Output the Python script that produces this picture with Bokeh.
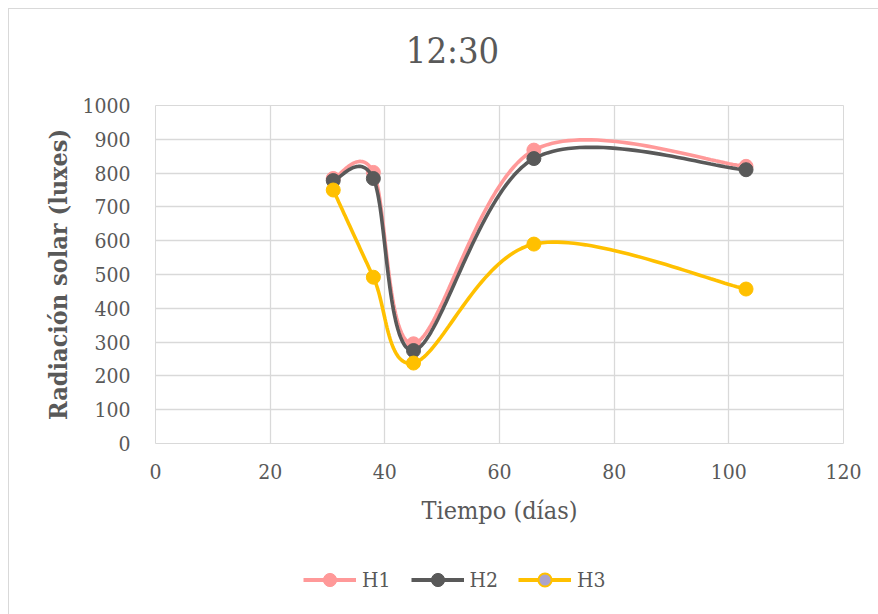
import numpy as np
from bokeh.plotting import figure
from bokeh.layouts import column
from bokeh.models import Legend, LegendItem, FixedTicker, Label
from bokeh.embed import file_html
from bokeh.resources import INLINE

# Solar radiation at 12:30 for three greenhouses
dias = [31, 38, 45, 66, 103]
h1 = [784, 802, 295, 868, 820]
h2 = [778, 784, 275, 843, 810]
h3 = [750, 492, 238, 590, 457]

series = [
    ("H1", h1, "#FF9999"),
    ("H2", h2, "#595959"),
    ("H3", h3, "#FFC000"),
]

x_ticks = [0, 20, 40, 60, 80, 100, 120]
y_ticks = list(range(0, 1001, 100))

FONT = "DejaVu Serif Condensed"
TEXT = "#595959"
GRID = "#D9D9D9"
WIDTH = 869


def suavizar(xs, ys, pasos=40):
    """Cubic Bezier smoothing through every point (Catmull-Rom style)."""
    pts = np.column_stack([xs, ys]).astype(float)
    ext = np.vstack([pts[0], pts, pts[-1]])
    t = np.linspace(0, 1, pasos + 1)[1:, None]
    out = [pts[:1]]
    for i in range(len(pts) - 1):
        p0 = ext[i + 1]
        p3 = ext[i + 2]
        c1 = p0 + (ext[i + 2] - ext[i]) / 6.0
        c2 = p3 - (ext[i + 3] - ext[i + 1]) / 6.0
        seg = ((1 - t) ** 3) * p0 + 3 * ((1 - t) ** 2) * t * c1 \
            + 3 * (1 - t) * t ** 2 * c2 + t ** 3 * p3
        out.append(seg)
    curve = np.vstack(out)
    return curve[:, 0], curve[:, 1]


def franja(height):
    """Blank strip (no axes, no grid) used for the heading and the legend."""
    f = figure(
        width=WIDTH, height=height, x_range=(0, 1), y_range=(0, 1),
        output_backend="svg", toolbar_location=None,
        x_axis_type=None, y_axis_type=None,
        min_border=0, outline_line_color=None,
        background_fill_color="white", border_fill_color="white",
    )
    f.xgrid.visible = False
    f.ygrid.visible = False
    return f


# ---- heading ----------------------------------------------------------
head = franja(81)
head.add_layout(Label(
    x=297, y=40, x_units="screen", y_units="screen", text="12:30",
    text_align="center", text_baseline="middle",
    text_font=FONT, text_font_size="36px", text_color=TEXT,
))

# ---- main chart -------------------------------------------------------
p = figure(
    width=WIDTH, height=453,
    x_range=(0, 120), y_range=(0, 1000),
    output_backend="svg", toolbar_location=None,
    min_border_left=146, min_border_right=35,
    min_border_top=15, min_border_bottom=100,
    background_fill_color="white", border_fill_color="white",
    outline_line_color=GRID,
)

p.xaxis.ticker = FixedTicker(ticks=x_ticks)
p.yaxis.ticker = FixedTicker(ticks=y_ticks)
p.xgrid.grid_line_color = GRID
p.ygrid.grid_line_color = GRID
p.xgrid.grid_line_width = 1.3
p.ygrid.grid_line_width = 1.3

for ax in (p.xaxis, p.yaxis):
    ax.axis_line_color = None
    ax.major_tick_line_color = None
    ax.minor_tick_line_color = None
    ax.major_label_text_font = FONT
    ax.major_label_text_font_size = "21px"
    ax.major_label_text_color = TEXT
    ax.axis_label_text_font = FONT
    ax.axis_label_text_color = TEXT

p.xaxis.axis_label = "Tiempo (días)"
p.xaxis.axis_label_text_font_size = "25px"
p.xaxis.axis_label_text_font_style = "normal"
p.xaxis.major_label_standoff = 14
p.xaxis.axis_label_standoff = 14

p.yaxis.axis_label = "Radiación solar (luxes)"
p.yaxis.axis_label_text_font_size = "25px"
p.yaxis.axis_label_text_font_style = "bold"
p.yaxis.major_label_standoff = 19
p.yaxis.axis_label_standoff = 6

for nombre, valores, color in series:
    sx, sy = suavizar(dias, valores)
    p.line(sx, sy, line_color=color, line_width=3.6)
    p.scatter(dias, valores, size=14, fill_color=color, line_color=color)

# ---- legend strip under the chart --------------------------------------
q = franja(71)

items = []
for nombre, valores, color in series:
    # key renderers hold a single empty (NaN) point: only their swatch shows
    key_line = q.line([np.nan], [np.nan], line_color=color, line_width=4)
    if nombre == "H3":
        key_dot = q.scatter([np.nan], [np.nan], size=13, fill_color="#ABA3CC",
                            line_color=color, line_width=2)
    else:
        key_dot = q.scatter([np.nan], [np.nan], size=13,
                            fill_color=color, line_color=color)
    items.append(LegendItem(label=nombre, renderers=[key_line, key_dot]))

legend = Legend(
    items=items, orientation="horizontal", location=(148, 18),
    label_text_font=FONT, label_text_font_size="21px", label_text_color=TEXT,
    glyph_width=53, glyph_height=33, label_standoff=6, spacing=20,
    border_line_color=None, background_fill_alpha=0, padding=0, margin=0,
)
q.add_layout(legend)

layout = column(head, p, q, spacing=0)
layout.margin = (8, 0, 0, 8)
layout.styles = {"border-top": "1px solid #D9D9D9",
                 "border-left": "1px solid #D9D9D9"}

open("out.html", "w").write(file_html(layout, INLINE))
